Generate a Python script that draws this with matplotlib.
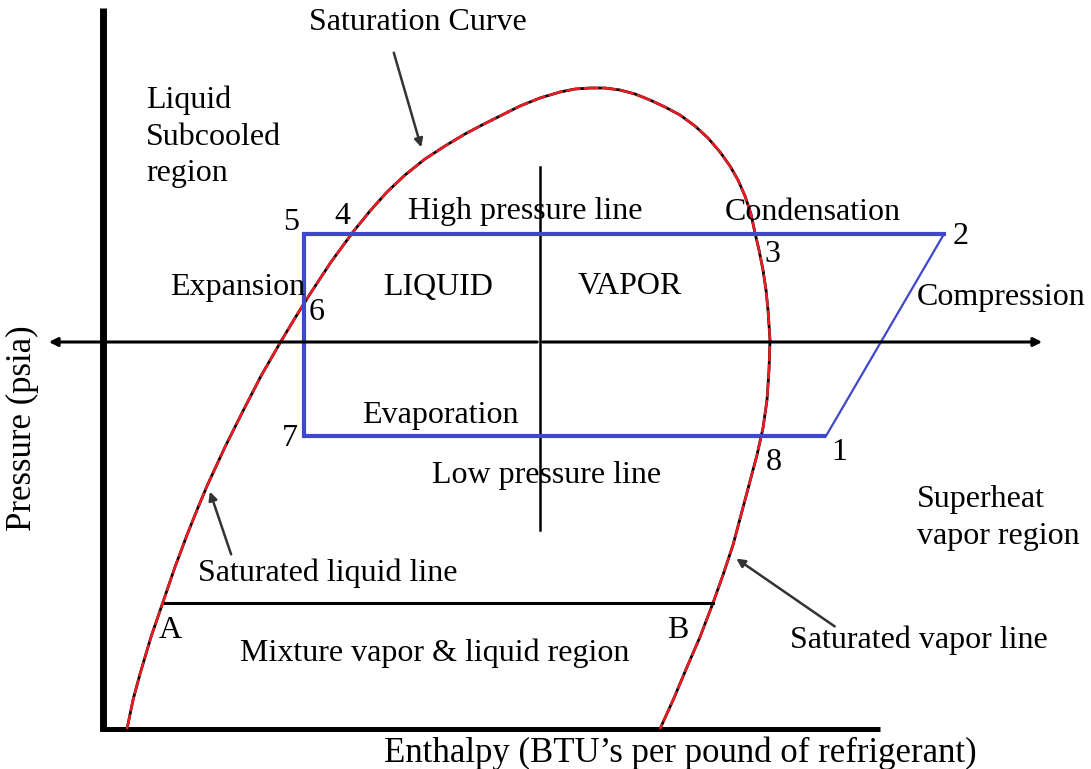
import matplotlib.pyplot as plt

# saturation dome (pixel-like coordinates, y down)
dome_x = [127, 133, 140, 151, 163, 175, 187, 197, 207, 225, 243, 261, 280, 295, 310, 331,
          353, 370, 387, 405, 425, 445, 465, 482, 500, 520, 540, 560, 575, 590, 605, 620,
          635, 650, 665, 680, 695, 708, 720, 730, 738, 745, 751, 755, 759, 763, 766, 768,
          770, 769, 767, 763, 757, 749, 741, 733, 723, 713, 700, 687, 674, 660]
dome_y = [729, 700, 674, 637, 602, 567, 535, 510, 486, 447, 411, 376, 343, 318, 294, 262,
          232, 211, 192, 175, 159, 146, 134, 125, 116, 106, 98, 92, 89, 88, 88, 90,
          94, 100, 107, 115, 126, 138, 152, 166, 180, 196, 214, 233, 250, 270, 290, 310,
          340, 370, 400, 428, 455, 485, 515, 545, 575, 603, 637, 667, 698, 729]

# refrigeration cycle: 7 -> 5 -> 2, 7 -> 1, 1 -> 2
cycle_x = [304, 304, 944]
cycle_y = [436, 234, 234]
low_x = [304, 826]
low_y = [436, 436]
comp_x = [826, 944]
comp_y = [436, 234]

ab_x = [165, 713]
ab_y = [603, 603]

labels = [
    ("Saturation Curve", 309, 22),
    ("Liquid\nSubcooled\nregion", 146, 137),
    ("High pressure line", 408, 212),
    ("Condensation", 725, 212),
    ("5", 283, 222), ("4", 334, 216), ("2", 953, 237), ("3", 764, 255),
    ("Expansion", 170, 287), ("6", 309, 312),
    ("LIQUID", 383, 287), ("VAPOR", 578, 287),
    ("Compression", 917, 297),
    ("Evaporation", 362, 415),
    ("7", 282, 438), ("1", 831, 452), ("8", 766, 463),
    ("Low pressure line", 432, 475),
    ("Superheat\nvapor region", 917, 518),
    ("Saturated liquid line", 198, 573),
    ("A", 159, 630), ("B", 667, 630),
    ("Saturated vapor line", 790, 640),
    ("Mixture vapor & liquid region", 240, 653),
]

arrows = [  # (tail, tip)
    ((393, 50), (422, 150)),
    ((232, 557), (209, 489)),
    ((837, 628), (734, 557)),
]

plt.rcParams['font.family'] = ['Liberation Serif', 'DejaVu Serif']
fig = plt.figure(figsize=(10.91, 7.69), dpi=100)
ax = fig.add_axes([0, 0, 1, 1])
ax.set_xlim(0, 1091)
ax.set_ylim(769, 0)
ax.axis('off')

# axes of the diagram
ax.plot([103, 103], [8, 731], color='black', lw=5, solid_capstyle='butt')
ax.plot([100, 880], [729, 729], color='black', lw=3.6, solid_capstyle='butt')
ax.plot([540, 540], [167, 530], color='black', lw=1.8)
ax.annotate('', xy=(46, 342), xytext=(540, 342),
            arrowprops=dict(arrowstyle='-|>,head_length=0.5,head_width=0.25', color='black', lw=2.2))
ax.annotate('', xy=(1045, 342), xytext=(540, 342),
            arrowprops=dict(arrowstyle='-|>,head_length=0.5,head_width=0.25', color='black', lw=2.2))

# dome: black line with red drawn over it
ax.plot(dome_x, dome_y, color='black', lw=2.0)
ax.plot(dome_x, dome_y, color='#ed1c24', lw=1.8, dashes=(6, 1.2))

# cycle
ax.plot(cycle_x, cycle_y, color='#3f48cc', lw=3, solid_joinstyle='miter')
ax.plot(low_x, low_y, color='#3f48cc', lw=3, solid_capstyle='butt')
ax.plot(comp_x, comp_y, color='#3f48cc', lw=1.6)

ax.plot(ab_x, ab_y, color='black', lw=2.2)

for (x0, y0), (x1, y1) in arrows:
    ax.annotate('', xy=(x1, y1), xytext=(x0, y0),
                arrowprops=dict(arrowstyle='-|>,head_length=0.5,head_width=0.25',
                                color='#333333', lw=1.8))

for text, x, y in labels:
    ax.text(x, y, text, fontsize=23, ha='left', va='center', linespacing=1.35)

ax.text(680, 753, "Enthalpy (BTU’s per pound of refrigerant)", fontsize=25,
        ha='center', va='center')
ax.text(22, 428, "Pressure (psia)", fontsize=25, ha='center', va='center', rotation=90)

fig.savefig('out.png', dpi=100)
